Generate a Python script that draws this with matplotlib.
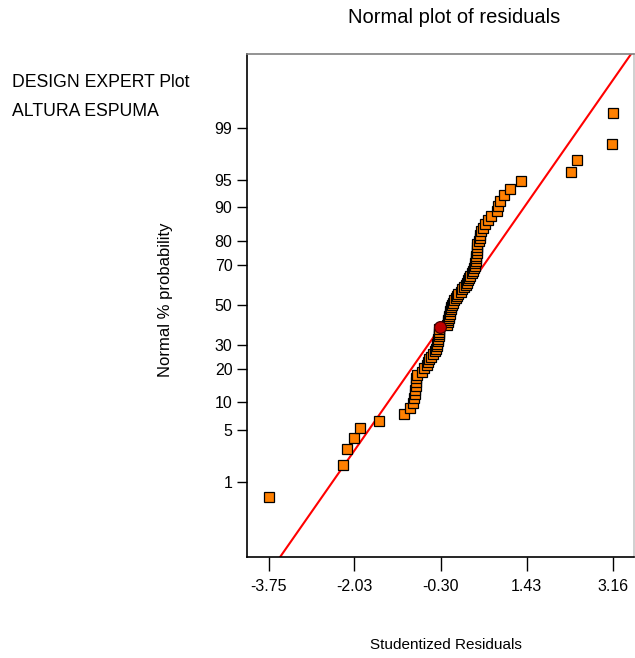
import matplotlib
matplotlib.use("Agg")
import matplotlib.pyplot as plt
from statistics import NormalDist

plt.rcParams['font.family'] = ['Liberation Sans', 'DejaVu Sans']

# studentized residuals, sorted
residuals = [
    -3.75, -2.25, -2.17, -2.04, -1.91, -1.53, -1.04, -0.92, -0.86, -0.84,
    -0.82, -0.81, -0.80, -0.80, -0.79, -0.78, -0.68, -0.64, -0.58, -0.56,
    -0.54, -0.50, -0.46, -0.42, -0.40, -0.38, -0.37, -0.355, -0.345, -0.34,
    -0.335, -0.335, -0.33, -0.32, -0.18, -0.16, -0.15, -0.135, -0.125, -0.115,
    -0.105, -0.095, -0.085, -0.075, -0.055, -0.035, 0.005, 0.035, 0.05, 0.105,
    0.135, 0.165, 0.20, 0.225, 0.245, 0.265, 0.285, 0.325, 0.355, 0.365,
    0.385, 0.395, 0.405, 0.41, 0.415, 0.42, 0.425, 0.43, 0.43, 0.465,
    0.485, 0.495, 0.505, 0.545, 0.585, 0.645, 0.72, 0.835, 0.86, 0.89,
    0.97, 1.09, 1.32, 2.31, 2.43, 3.13, 3.16,
]
highlight = 33  # index of the selected (red) run

# reference line z = slope * x + intercept
line_slope = 0.94
line_intercept = -0.01

x_ticks = [-3.75, -2.03, -0.30, 1.43, 3.16]
prob_ticks = [1, 5, 10, 20, 30, 50, 70, 80, 90, 95, 99]

nd = NormalDist()
n = len(residuals)
z = [nd.inv_cdf((i + 0.5) / n) for i in range(n)]

fig = plt.figure(figsize=(6.35, 6.58), dpi=100)
ax = fig.add_axes([0.389, 0.1535, 0.609, 0.7644])

xlim = (-4.185, 3.575)
ax.plot(xlim, [line_slope * v + line_intercept for v in xlim], color='#ff0000', lw=1.5, zorder=2)

xs = [r for i, r in enumerate(residuals) if i != highlight]
zs = [q for i, q in enumerate(z) if i != highlight]
ax.plot(xs, zs, ls='none', marker='s', ms=7.2, mfc='#ff8000', mec='black', mew=0.9, zorder=3)
ax.plot([residuals[highlight]], [z[highlight]], ls='none', marker='o', ms=8.5,
        mfc='#c00000', mec='#400000', mew=0.9, zorder=4)

ax.set_xlim(xlim)
ax.set_ylim(-3.32, 3.30)
ax.set_xticks(x_ticks)
ax.set_xticklabels(['%.2f' % v for v in x_ticks])
ax.set_yticks([nd.inv_cdf(p / 100) for p in prob_ticks])
ax.set_yticklabels([str(p) for p in prob_ticks])
ax.tick_params(axis='x', length=10, width=1, pad=6, labelsize=11.5)
ax.tick_params(axis='y', length=7.5, width=1, pad=3, labelsize=11.5, colors='black')

ax.spines['top'].set_color('#808080')
ax.spines['right'].set_color('#c8c8c8')
ax.spines['left'].set_color('black')
ax.spines['bottom'].set_color('black')
for s in ax.spines.values():
    s.set_linewidth(1.2)

fig.text(0.715, 0.973, 'Normal plot of residuals', ha='center', va='center', fontsize=14.5)
fig.text(0.019, 0.874, 'DESIGN EXPERT Plot', ha='left', va='center', fontsize=12.7)
fig.text(0.019, 0.831, 'ALTURA ESPUMA', ha='left', va='center', fontsize=12.7)
fig.text(0.26, 0.544, 'Normal % probability', ha='center', va='center', rotation=90, fontsize=12)
fig.text(0.702, 0.02, 'Studentized Residuals', ha='center', va='center', fontsize=11)

fig.savefig('out.png', dpi=100)
